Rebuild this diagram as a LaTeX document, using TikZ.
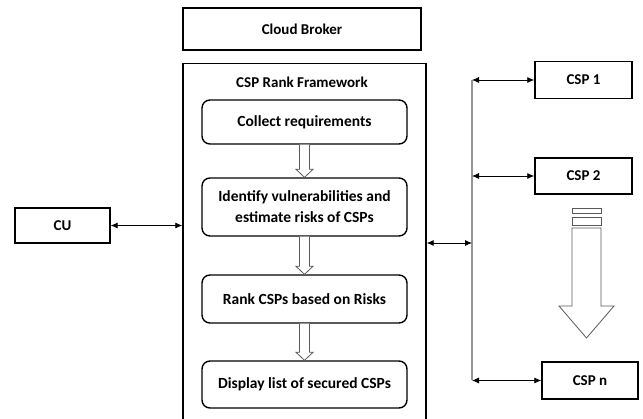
\documentclass[tikz,border=0pt]{standalone}
\usepackage{fontspec}
\setmainfont{Carlito}
\usetikzlibrary{arrows.meta,calc}

\tikzset{
  box/.style={draw, line width=1.4pt, inner sep=0pt, font=\fontsize{15}{18}\selectfont\bfseries},
  stepbox/.style={box, rounded corners=8pt, minimum width=205pt, align=center, font=\fontsize{15.5}{21}\selectfont\bfseries},
  link/.style={{Latex[length=7pt,width=6pt]}-{Latex[length=7pt,width=6pt]}, line width=0.8pt},
  hollow/.style={draw={rgb,255:red,90; green,90; blue,90}, line width=0.8pt, fill=white},
}

% hollow arrow from the bottom of one step to the top of the next
\newcommand{\steparrow}[2]{%
  \draw[hollow] ($(#1.south)+(-5,0)$) -- ($(#2.north)+(-5,-8)$) -- ($(#2.north)+(-8.5,-8)$)
    -- (#2.north) -- ($(#2.north)+(8.5,-8)$) -- ($(#2.north)+(5,-8)$) -- ($(#1.south)+(5,0)$);}

\begin{document}
\begin{tikzpicture}[x=1pt, y=-1pt]
  \useasboundingbox (0,0) rectangle (643,419);

  % broker and framework
  \node[box, minimum width=238pt, minimum height=42pt] (broker) at (302,29) {Cloud Broker};
  \node[box, minimum width=243pt, minimum height=370pt, anchor=north] (frame) at (304.5,63) {};
  \node[font=\fontsize{15}{18}\selectfont\bfseries] (title) at (302,82) {CSP Rank Framework};

  % steps
  \node[stepbox, minimum height=44pt] (collect) at (304.5,122) {Collect requirements};
  \node[stepbox, minimum height=58pt] (identify) at (304.5,207) {Identify vulnerabilities and\\estimate risks of CSPs};
  \node[stepbox, minimum height=48pt] (rank) at (304.5,299) {Rank CSPs based on Risks};
  \node[stepbox, minimum height=47pt] (display) at (304.5,384.5) {Display list of secured CSPs};
  \steparrow{collect}{identify}
  \steparrow{identify}{rank}
  \steparrow{rank}{display}

  % user
  \node[box, minimum width=95pt, minimum height=35pt] (cu) at (62.5,225.5) {CU};
  \draw[link] (cu.east) -- (cu.east -| frame.west);

  % providers
  \node[box, minimum width=97pt, minimum height=37pt] (csp1) at (583.5,80) {CSP 1};
  \node[box, minimum width=97pt, minimum height=36pt] (csp2) at (583.5,176) {CSP 2};
  \node[box, minimum width=96pt, minimum height=37pt] (cspn) at (590,380.5) {CSP n};

  \coordinate (bustop) at (472,80);
  \coordinate (busbot) at (472,380.5);
  \coordinate (busmid) at (472,243);
  \draw[line width=1.2pt, color={rgb,255:red,150; green,150; blue,150}] (bustop) -- (busbot);
  \draw[link] (bustop) -- (csp1.west);
  \draw[link] (csp2.west -| bustop) -- (csp2.west);
  \draw[link] (busbot) -- (cspn.west);
  \draw[link] (busmid -| frame.east) -- (busmid);

  % more providers
  \draw[hollow] (572,208) rectangle (601,213);
  \draw[hollow] (572,217) rectangle (601,225);
  \draw[hollow] (572,228) -- (572,306) -- (559,306) -- (586.5,338) -- (614,306) -- (601,306) -- (601,228) -- cycle;
\end{tikzpicture}
\end{document}
